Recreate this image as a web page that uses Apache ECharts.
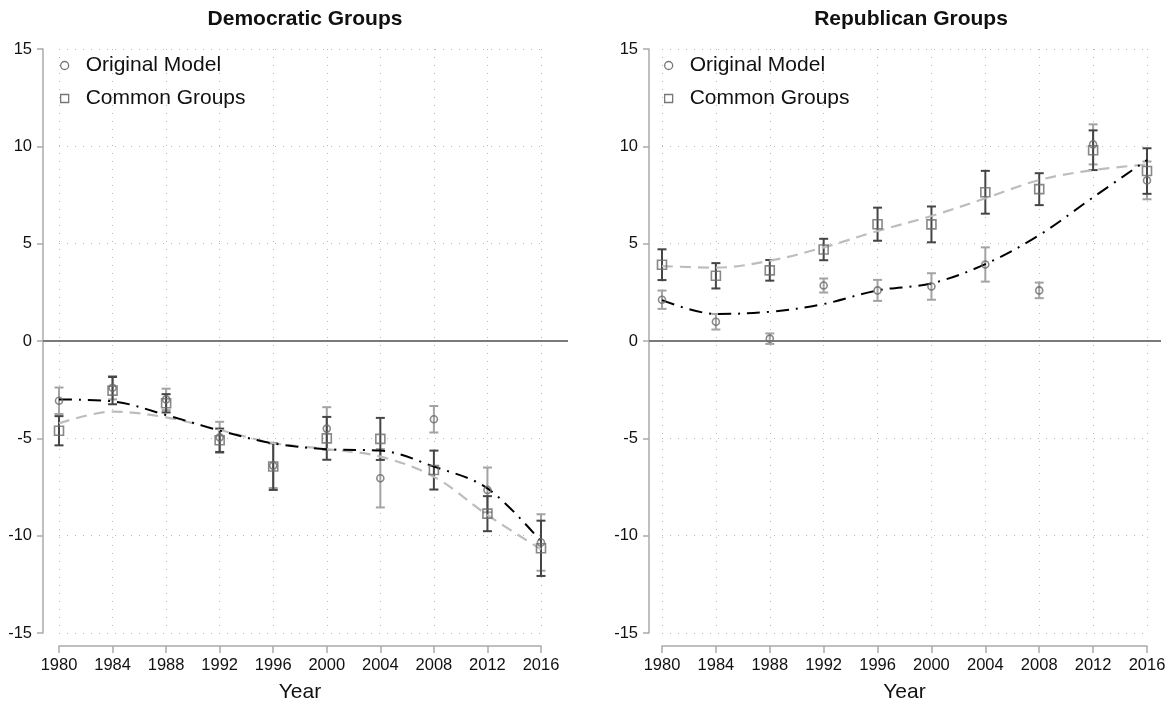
<!DOCTYPE html>
<html>
<head>
<meta charset="utf-8">
<script src="https://cdn.jsdelivr.net/npm/echarts@6/dist/echarts.min.js"></script>
<style>html,body{margin:0;padding:0;background:#fff;}#c{width:1174px;height:713px;}</style>
</head>
<body>
<div id="c"></div>
<script>
const years = [1980,1984,1988,1992,1996,2000,2004,2008,2012,2016];
const xTicks = [1980,1984,1988,1992,1996,2000,2004,2008,2012,2016];
const yTicks = [-15,-10,-5,0,5,10,15];

const demOrig      = [-3.07,-2.40,-3.00,-4.95,-6.40,-4.50,-7.05,-4.02,-7.65,-10.35];
const demOrigCI    = [0.68,0.60,0.55,0.80,1.15,1.10,1.50,0.68,1.15,1.45];
const demCommon    = [-4.61,-2.55,-3.20,-5.10,-6.45,-5.00,-5.03,-6.63,-8.87,-10.65];
const demCommonCI  = [0.75,0.70,0.47,0.60,1.20,1.10,1.08,1.00,0.90,1.42];
const demOrigFit   = [-3.00,-3.10,-3.80,-4.60,-5.26,-5.56,-5.63,-6.45,-7.57,-10.30];
const demCommonFit = [-4.23,-3.63,-3.92,-4.57,-5.24,-5.55,-5.94,-6.97,-8.94,-10.70];

const repOrig      = [2.12,0.99,0.12,2.85,2.60,2.80,3.93,2.60,10.10,8.25];
const repOrigCI    = [0.47,0.40,0.27,0.36,0.54,0.68,0.88,0.40,1.03,0.97];
const repCommon    = [3.92,3.35,3.63,4.70,6.00,5.99,7.64,7.80,9.80,8.73];
const repCommonCI  = [0.79,0.65,0.53,0.55,0.85,0.92,1.10,0.82,1.02,1.17];
const repOrigFit   = [2.10,1.39,1.50,1.90,2.60,2.96,3.95,5.44,7.38,9.30];
const repCommonFit = [3.85,3.77,4.12,4.81,5.65,6.42,7.33,8.27,8.78,9.07];

const FONT = "'Liberation Sans', Arial, sans-serif";
const LIGHT = '#a3a3a3', DARK = '#454545', MARK = '#6a6a6a';

function pts(v){ return years.map((y,i)=>[y, v[i]]); }
function ci(v, h){ return years.map((y,i)=>[y, v[i]-h[i], v[i]+h[i]]); }
function errRender(color){
  return function(params, api){
    const x = api.value(0), lo = api.value(1), hi = api.value(2);
    const a = api.coord([x, hi]), b = api.coord([x, lo]);
    const w = 4.5;
    const st = {stroke: color, lineWidth: 2};
    return {type:'group', children:[
      {type:'line', shape:{x1:a[0], y1:a[1], x2:b[0], y2:b[1]}, style:st},
      {type:'line', shape:{x1:a[0]-w, y1:a[1], x2:a[0]+w, y2:a[1]}, style:st},
      {type:'line', shape:{x1:b[0]-w, y1:b[1], x2:b[0]+w, y2:b[1]}, style:st}
    ]};
  };
}

const grids = [
  {left:59, top:49, width:482, height:584},
  {left:43, top:49, width:525, height:584},
  {left:662, top:49, width:485, height:584},
  {left:649, top:49, width:512, height:584}
];

function dataX(gi){
  return {type:'value', gridIndex:gi, min:1980, max:2016, interval:4, offset:13,
    axisLine:{show:true, onZero:false, lineStyle:{color:'#aaaaaa', width:1.5}},
    axisTick:{show:true, length:7, lineStyle:{color:'#aaaaaa', width:1.5}},
    axisLabel:{color:'#111', fontSize:16.5, fontFamily:FONT, margin:11, formatter:v=>String(v)},
    splitLine:{show:true, lineStyle:{color:'#b8b8b8', type:[1,7], width:1}},
    name:'Year', nameLocation:'middle', nameGap:36,
    nameTextStyle:{color:'#111', fontSize:21, fontFamily:FONT}};
}
function dataY(gi, off){
  return {type:'value', gridIndex:gi, min:-15, max:15, interval:5, offset:off,
    axisLine:{show:true, onZero:false, lineStyle:{color:'#aaaaaa', width:1.5}},
    axisTick:{show:true, length:6, lineStyle:{color:'#aaaaaa', width:1.5}},
    axisLabel:{color:'#111', fontSize:16.5, fontFamily:FONT, margin:11},
    splitLine:{show:true, lineStyle:{color:'#b8b8b8', type:[1,7], width:1}}};
}
function hideX(gi){ return {type:'value', gridIndex:gi, min:0, max:1, show:false, splitLine:{show:false}}; }
function hideY(gi){ return {type:'value', gridIndex:gi, min:-15, max:15, show:false, splitLine:{show:false}}; }

function panel(xi, orig, origCI, common, commonCI, origFit, commonFit){
  return [
    {type:'custom', name:'origCI', xAxisIndex:xi, yAxisIndex:xi, renderItem:errRender(LIGHT), data:ci(orig, origCI), silent:true, z:2},
    {type:'custom', name:'commonCI', xAxisIndex:xi, yAxisIndex:xi, renderItem:errRender(DARK), data:ci(common, commonCI), silent:true, z:3},
    {type:'line', name:'fitCommon', xAxisIndex:xi, yAxisIndex:xi, data:pts(commonFit), smooth:0.35, symbol:'none',
      lineStyle:{color:'#bdbdbd', width:2.2, type:[11,7]}, z:4},
    {type:'line', name:'fitOrig', xAxisIndex:xi, yAxisIndex:xi, data:pts(origFit), smooth:0.35, symbol:'none',
      lineStyle:{color:'#000', width:2, type:[13,7,2,7]}, z:5},
    {type:'scatter', name:'Original Model', xAxisIndex:xi, yAxisIndex:xi, data:pts(orig), symbol:'circle', symbolSize:7,
      itemStyle:{color:'rgba(0,0,0,0)', borderColor:MARK, borderWidth:1.6}, z:6},
    {type:'scatter', name:'Common Groups', xAxisIndex:xi, yAxisIndex:xi, data:pts(common), symbol:'rect', symbolSize:9,
      itemStyle:{color:'rgba(0,0,0,0)', borderColor:MARK, borderWidth:1.6}, z:6}
  ];
}
function zeroLine(xi){
  return {type:'line', xAxisIndex:xi, yAxisIndex:xi, data:[], silent:true, z:1,
    markLine:{symbol:'none', silent:true, label:{show:false}, animation:false,
      lineStyle:{color:'#7a7a7a', width:2, type:'solid'}, data:[{yAxis:0}]}};
}
function legend(left){
  return {left:left, top:50, orient:'vertical', itemWidth:8, itemHeight:8, itemGap:12,
    textStyle:{color:'#111', fontSize:21, fontFamily:FONT, padding:[0,0,0,12]},
    data:[
      {name:'Original Model', icon:'circle', itemStyle:{color:'#fff', borderColor:'#555', borderWidth:1.3}},
      {name:'Common Groups', icon:'rect', itemStyle:{color:'#fff', borderColor:'#555', borderWidth:1.3}}
    ], selectedMode:false};
}

const option = {
  animation:false,
  backgroundColor:'#fff',
  title:[
    {text:'Democratic Groups', left:300, top:4, textAlign:'center', textStyle:{fontSize:21, fontWeight:'bold', color:'#111', fontFamily:FONT}},
    {text:'Republican Groups', left:906, top:4, textAlign:'center', textStyle:{fontSize:21, fontWeight:'bold', color:'#111', fontFamily:FONT}}
  ],
  legend:[legend(55), legend(659)],
  grid:grids,
  xAxis:[dataX(0), hideX(1), dataX(2), hideX(3)],
  yAxis:[dataY(0,16), hideY(1), dataY(2,13), hideY(3)],
  series:[
    zeroLine(1), zeroLine(3),
    ...panel(0, demOrig, demOrigCI, demCommon, demCommonCI, demOrigFit, demCommonFit),
    ...panel(2, repOrig, repOrigCI, repCommon, repCommonCI, repOrigFit, repCommonFit)
  ]
};
const chart = echarts.init(document.getElementById('c'), null, {renderer:'canvas'});
chart.setOption(option);
</script>
</body>
</html>
